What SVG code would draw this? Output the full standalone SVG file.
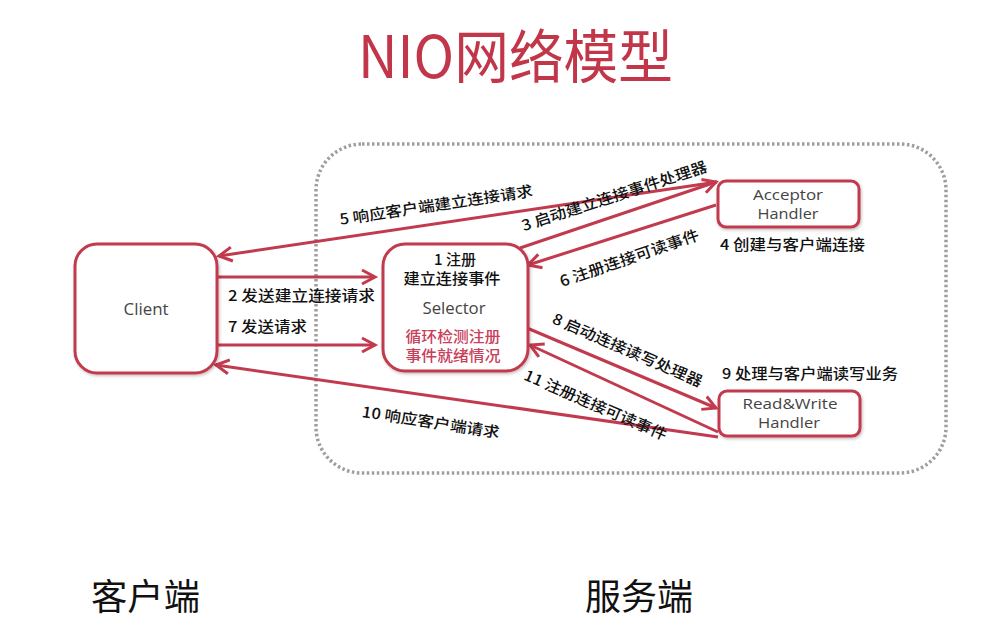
<svg xmlns="http://www.w3.org/2000/svg" width="991" height="642" viewBox="0 0 991 642">
<style>
.box{fill:#fff;stroke:#c23a4e;stroke-width:3;filter:url(#sh)}
.ln{fill:none;stroke:#c23a4e;stroke-width:3;marker-end:url(#ah)}
.lat{font-family:"Open Sans","Noto Sans",sans-serif;font-size:16px;fill:#444}
.sm{font-size:14.5px}
.cj{font-family:"Noto Sans CJK SC",sans-serif;font-size:15px;fill:#111;font-weight:500}
.red{font-family:"Noto Sans CJK SC",sans-serif;font-size:15px;fill:#c8405a;font-weight:500}
</style>
<defs>
<filter id="sh" x="-20%" y="-20%" width="140%" height="140%"><feDropShadow dx="1" dy="1.5" stdDeviation="1.5" flood-color="#000" flood-opacity="0.25"/></filter>
<marker id="ah" markerUnits="userSpaceOnUse" markerWidth="20" markerHeight="20" refX="14" refY="8" orient="auto" viewBox="0 0 20 16">
<path d="M1,1 L14,8 L1,15" fill="none" stroke="#c23a4e" stroke-width="3" stroke-linejoin="miter"/>
</marker>
</defs>
<rect width="991" height="642" fill="#fff"/>
<text x="358" y="78" font-family="Noto Sans CJK SC,Noto Sans,sans-serif" font-size="58" fill="#c2364a" textLength="315" lengthAdjust="spacingAndGlyphs">NIO网络模型</text>
<rect id="server-area" x="316" y="144" width="630" height="329" rx="46" fill="none" stroke="#9e9e9e" stroke-width="3.5" stroke-dasharray="2.5 2.5"/>
<g id="connectors">
<line class="ln" x1="217" y1="277" x2="375" y2="277"/>
<line class="ln" x1="217" y1="345" x2="375" y2="345"/>
<line class="ln" x1="717" y1="182" x2="219" y2="256"/>
<line class="ln" x1="520" y1="248" x2="716" y2="182"/>
<line class="ln" x1="716" y1="205" x2="528" y2="265"/>
<line class="ln" x1="527" y1="328" x2="716" y2="408"/>
<line class="ln" x1="718" y1="432" x2="530" y2="345"/>
<line class="ln" x1="718" y1="437" x2="216" y2="365"/>
<text class="cj" x="228" y="301" textLength="147" lengthAdjust="spacingAndGlyphs">2 发送建立连接请求</text>
<text class="cj" x="228" y="332" textLength="79" lengthAdjust="spacingAndGlyphs">7 发送请求</text>
<text class="cj" text-anchor="middle" dominant-baseline="central" transform="translate(436,204) rotate(-8.5)" textLength="195" lengthAdjust="spacingAndGlyphs">5 响应客户端建立连接请求</text>
<text class="cj" text-anchor="middle" dominant-baseline="central" transform="translate(614,195) rotate(-18)" textLength="194" lengthAdjust="spacingAndGlyphs">3 启动建立连接事件处理器</text>
<text class="cj" text-anchor="middle" dominant-baseline="central" transform="translate(629,257) rotate(-19)" textLength="146" lengthAdjust="spacingAndGlyphs">6 注册连接可读事件</text>
<text class="cj" text-anchor="middle" dominant-baseline="central" transform="translate(628,349) rotate(23.5)" textLength="162" lengthAdjust="spacingAndGlyphs">8 启动连接读写处理器</text>
<text class="cj" text-anchor="middle" dominant-baseline="central" transform="translate(596,404) rotate(23.5)" textLength="154" lengthAdjust="spacingAndGlyphs">11 注册连接可读事件</text>
<text class="cj" text-anchor="middle" dominant-baseline="central" transform="translate(431,421) rotate(8.7)" textLength="139" lengthAdjust="spacingAndGlyphs">10 响应客户端请求</text>
</g>
<g id="client">
<rect class="box" x="75" y="244" width="142" height="129" rx="22"/>
<text class="lat" x="146" y="315" text-anchor="middle" textLength="45" lengthAdjust="spacingAndGlyphs">Client</text>
</g>
<g id="selector">
<rect class="box" x="383" y="244" width="145" height="127" rx="22"/>
<text class="cj" x="455" y="265" text-anchor="middle">1 注册</text>
<text class="cj" x="452" y="284" text-anchor="middle" textLength="97" lengthAdjust="spacingAndGlyphs">建立连接事件</text>
<text class="lat" x="454" y="314" text-anchor="middle" textLength="63" lengthAdjust="spacingAndGlyphs">Selector</text>
<text class="red" x="453" y="342" text-anchor="middle" textLength="95" lengthAdjust="spacingAndGlyphs">循环检测注册</text>
<text class="red" x="453" y="361" text-anchor="middle" textLength="95" lengthAdjust="spacingAndGlyphs">事件就绪情况</text>
</g>
<g id="acceptor">
<rect class="box" x="718" y="181" width="141" height="46" rx="8"/>
<text class="lat sm" x="788" y="200" text-anchor="middle" textLength="70" lengthAdjust="spacingAndGlyphs">Acceptor</text>
<text class="lat sm" x="788" y="219" text-anchor="middle" textLength="61" lengthAdjust="spacingAndGlyphs">Handler</text>
<text class="cj" x="720" y="250" textLength="145" lengthAdjust="spacingAndGlyphs">4 创建与客户端连接</text>
</g>
<g id="readwrite">
<rect class="box" x="719" y="391" width="141" height="45" rx="8"/>
<text class="lat sm" x="790" y="409" text-anchor="middle" textLength="95" lengthAdjust="spacingAndGlyphs">Read&amp;Write</text>
<text class="lat sm" x="789" y="428" text-anchor="middle" textLength="62" lengthAdjust="spacingAndGlyphs">Handler</text>
<text class="cj" x="722" y="379" textLength="176" lengthAdjust="spacingAndGlyphs">9 处理与客户端读写业务</text>
</g>
<text x="91" y="610" font-family="Noto Sans CJK SC,sans-serif" font-size="36" fill="#111" textLength="109" lengthAdjust="spacingAndGlyphs">客户端</text>
<text x="585" y="610" font-family="Noto Sans CJK SC,sans-serif" font-size="36" fill="#111" textLength="108" lengthAdjust="spacingAndGlyphs">服务端</text>
</svg>
